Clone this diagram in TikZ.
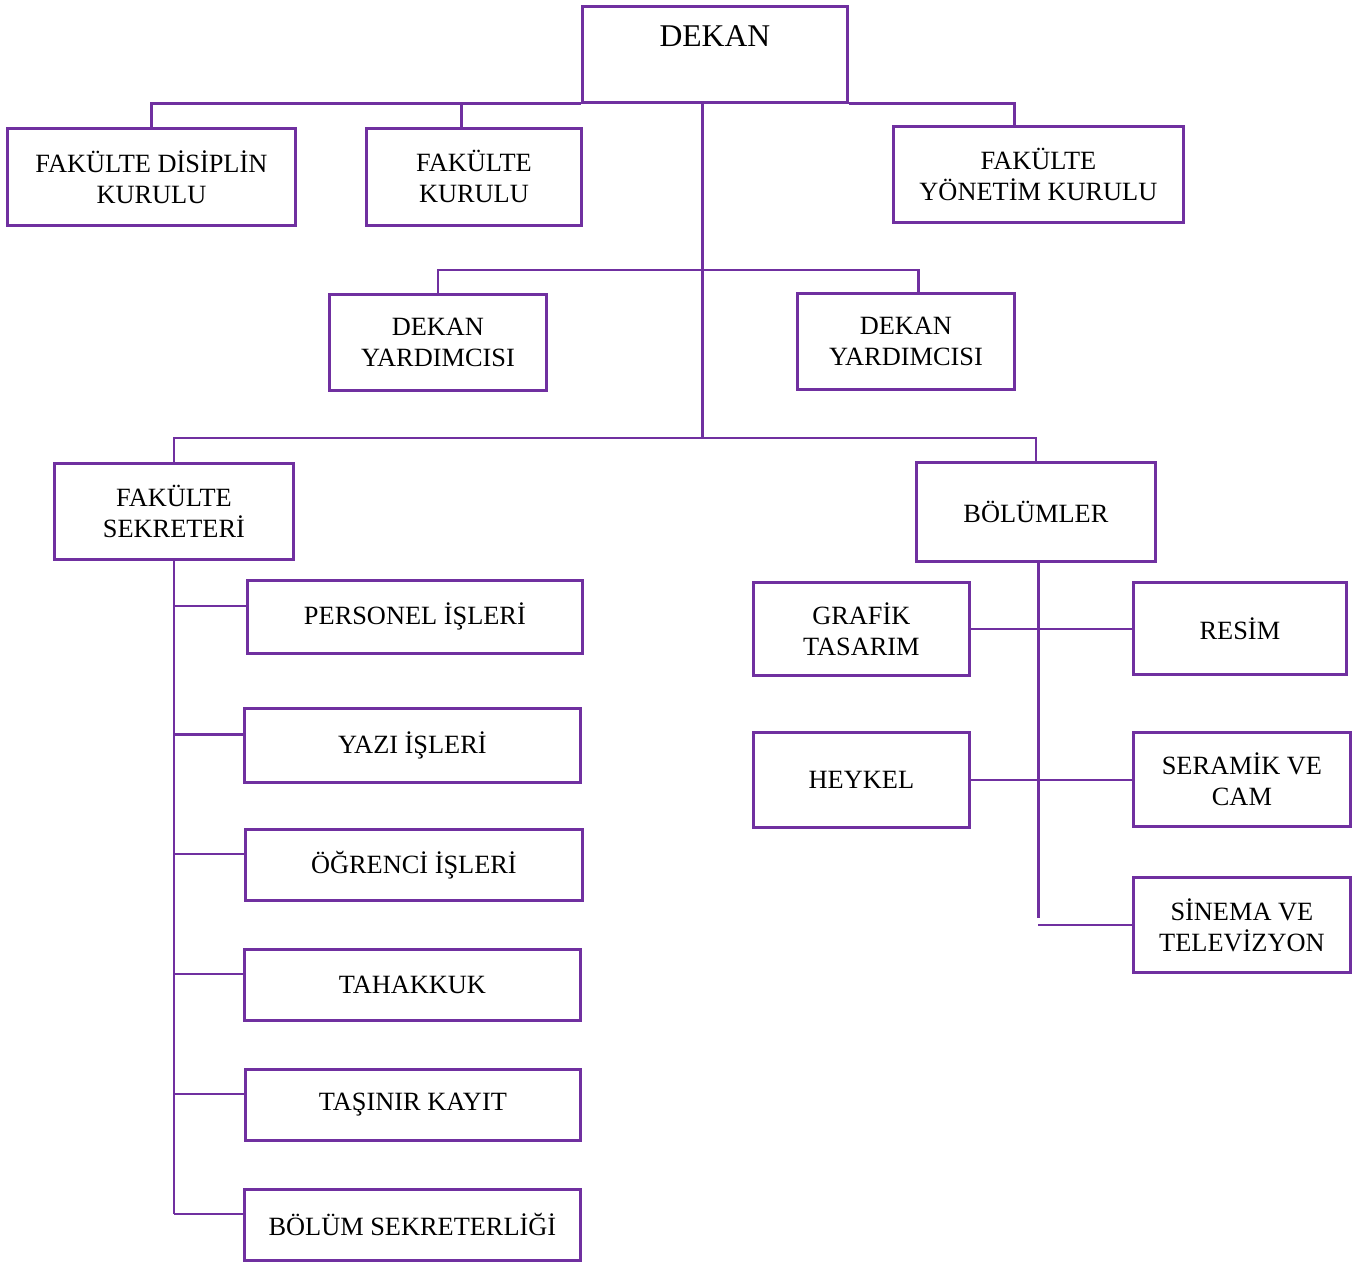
\documentclass[tikz,border=0pt]{standalone}
\usepackage{fontspec}
\setmainfont{Liberation Serif}
\definecolor{orgpurple}{HTML}{7030A0}

\begin{document}
\begin{tikzpicture}[x=0.02cm,y=-0.02cm,
 box/.style={draw=orgpurple,line width=1.6pt,inner sep=0pt,anchor=north west,
  align=center,font=\fontsize{15}{17.6}\selectfont},
 sz/.style 2 args={minimum width=#1*0.02cm,minimum height=#2*0.02cm},
 link/.style={draw=orgpurple,line width=1.6pt}]
 \useasboundingbox (0,0) rectangle (1363,1262);
 % top level
 \node[box,sz={265}{96}] (dekan) at (581,5) {};
 \node[anchor=north,inner sep=0pt,font=\fontsize{18}{21}\selectfont]
  (dekanlbl) at ([yshift=-0.4cm]dekan.north) {DEKAN};
 \node[box,sz={288}{97}] (disiplin) at (6,127) {FAKÜLTE DİSİPLİN\\KURULU};
 \node[box,sz={215}{97}] (kurul) at (365,127) {FAKÜLTE\\KURULU};
 \node[box,sz={290}{96}] (yonetim) at (892,125) {FAKÜLTE\\YÖNETİM KURULU};
 \node[box,sz={217}{96}] (yard1) at (328,293) {DEKAN\\YARDIMCISI};
 \node[box,sz={217}{96}] (yard2) at (796,292) {DEKAN\\YARDIMCISI};
 \node[box,sz={239}{96}] (sek) at (53,462) {FAKÜLTE\\SEKRETERİ};
 \node[box,sz={239}{99}] (bolum) at (915,461) {BÖLÜMLER};
 % sekreterlik
 \node[box,sz={335}{73}] (personel) at (246,579) {PERSONEL İŞLERİ};
 \node[box,sz={336}{74}] (yazi) at (243,707) {YAZI İŞLERİ};
 \node[box,sz={337}{71}] (ogrenci) at (244,828) {ÖĞRENCİ İŞLERİ};
 \node[box,sz={336}{71}] (tahakkuk) at (243,948) {TAHAKKUK};
 \node[box,sz={335}{71}] (tasinir) at (244,1068) {TAŞINIR KAYIT};
 \node[box,sz={336}{71}] (bsek) at (243,1188) {BÖLÜM SEKRETERLİĞİ};
 % bolumler
 \node[box,sz={216}{93}] (grafik) at (752,581) {GRAFİK\\TASARIM};
 \node[box,sz={213}{92}] (resim) at (1132,581) {RESİM};
 \node[box,sz={216}{95}] (heykel) at (752,731) {HEYKEL};
 \node[box,sz={217}{94}] (seramik) at (1132,731) {SERAMİK VE\\CAM};
 \node[box,sz={217}{95}] (sinema) at (1132,876) {SİNEMA VE\\TELEVİZYON};
 % connectors
 \coordinate (trunk) at ([xshift=-0.25cm]dekan.south);
 \coordinate (btrunk) at ([xshift=0.05cm]bolum.south);
 \draw[link] (disiplin.north) |- (dekan.south west);
 \draw[link] ([xshift=-0.48cm]yonetim.north) |- (dekan.south east);
 \draw[link] ([xshift=-0.25cm]kurul.north) -- ([xshift=-0.25cm]kurul.north |- dekan.south);
 \draw[link] (trunk) -- ([yshift=0.48cm]trunk |- sek.north);
 \draw[link] (yard1.north) -- ++(0,-23) -| ([xshift=0.25cm]yard2.north);
 \draw[link] (sek.north) -- ++(0,-24) -| (bolum.north);
 \draw[link] (sek.south) -- ([yshift=0.22cm]bsek.west -| sek.south);
 \foreach \n in {personel,yazi,ogrenci,tahakkuk,tasinir,bsek}
  \draw[link] ([yshift=0.22cm]\n.west) -- ([yshift=0.22cm]\n.west -| sek.south);
 \draw[link] (btrunk) -- ([yshift=0.14cm]btrunk |- sinema.west);
 \draw[link] (grafik.east) -- (grafik.east -| resim.west);
 \draw[link] (heykel.east) -- (heykel.east -| seramik.west);
 \draw[link] (sinema.west) -- (sinema.west -| btrunk);
\end{tikzpicture}
\end{document}
